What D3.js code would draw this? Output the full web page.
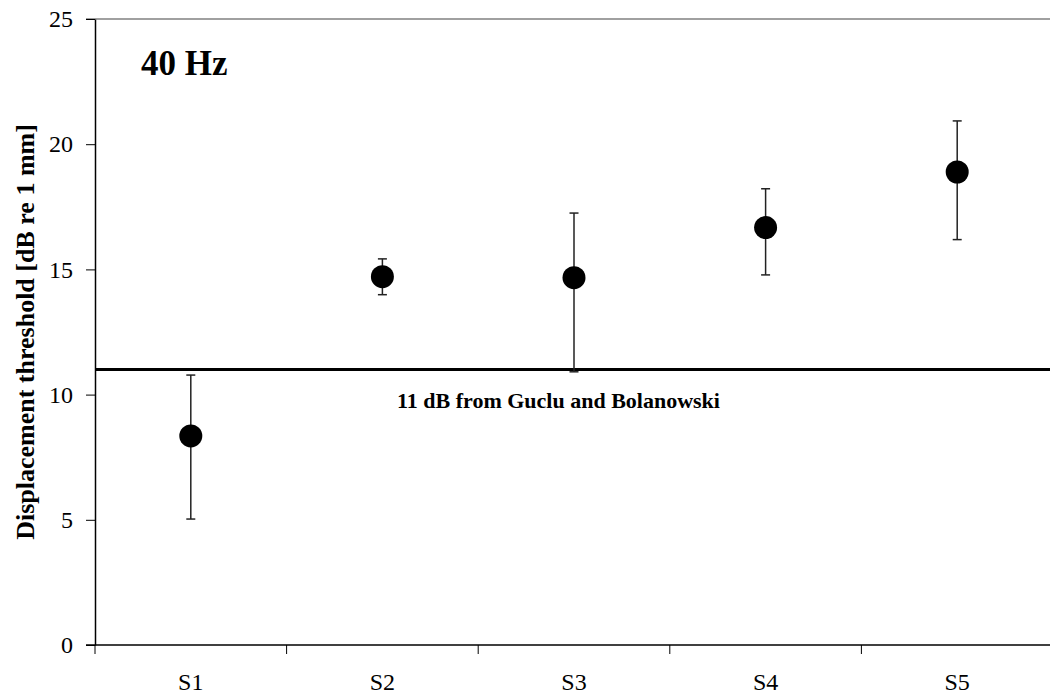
<!DOCTYPE html>
<html>
<head>
<meta charset="utf-8">
<script src="https://cdn.jsdelivr.net/npm/d3@7"></script>
<style>
  body { margin: 0; background: #fff; }
  svg { display: block; }
  text { font-family: "Liberation Serif", "DejaVu Serif", serif; }
</style>
</head>
<body>
<div id="vis"></div>
<script>
var subjects = ['S1', 'S2', 'S3', 'S4', 'S5'];
var means = [8.35, 14.71, 14.67, 16.67, 18.89];
var upper = [10.78, 15.42, 17.25, 18.22, 20.93];
var lower = [5.03, 13.99, 10.91, 14.78, 16.19];
var yTicks = [0, 5, 10, 15, 20, 25];
var refLevel = 11;
var refLabel = '11 dB from Guclu and Bolanowski';

var width = 1050;
var height = 698;
var margin = {left: 95, top: 19, right: -3, bottom: 53};

var svg = d3.select('#vis')
    .append('svg')
        .attr('width', width)
        .attr('height', height);

var innerW = width - margin.left - margin.right;
var innerH = height - margin.top - margin.bottom;

var g = svg.append('g')
    .attr('transform', 'translate(' + margin.left + ',' + margin.top + ')');

var x_scale = d3.scaleBand()
    .domain(subjects)
    .range([0, innerW]);

var y_scale = d3.scaleLinear()
    .domain([0, 25])
    .range([innerH, 0]);

// top frame line
g.append('line')
    .attr('x1', -9).attr('x2', innerW)
    .attr('y1', 0).attr('y2', 0)
    .attr('stroke', '#808080')
    .attr('stroke-width', 1.5);

// y axis
var yAxis = g.append('g')
    .call(d3.axisLeft(y_scale).tickValues(yTicks).tickSize(9).tickSizeOuter(0).tickPadding(13));
yAxis.select('.domain').attr('stroke', '#000').attr('stroke-width', 1.5);
yAxis.selectAll('.tick line').attr('stroke', '#000');
yAxis.selectAll('text')
    .attr('font-family', '"Liberation Serif", serif')
    .attr('font-size', 24)
    .attr('fill', '#000');

// x axis, ticks between categories
var xAxisG = g.append('g')
    .attr('transform', 'translate(0,' + innerH + ')');
xAxisG.append('line')
    .attr('x1', -9).attr('x2', innerW)
    .attr('y1', 0).attr('y2', 0)
    .attr('stroke', '#000')
    .attr('stroke-width', 1.5);
var bounds = subjects.map(function(d){ return x_scale(d); });
xAxisG.selectAll('.xtick')
    .data(bounds)
    .enter().append('line')
    .attr('x1', function(d){ return d; })
    .attr('x2', function(d){ return d; })
    .attr('y1', 0).attr('y2', 9)
    .attr('stroke', '#000');
xAxisG.selectAll('.xlabel')
    .data(subjects)
    .enter().append('text')
    .attr('x', function(d){ return x_scale(d) + x_scale.bandwidth() / 2; })
    .attr('y', 45)
    .attr('text-anchor', 'middle')
    .attr('font-size', 24)
    .text(function(d){ return d; });

// reference line
g.append('line')
    .attr('x1', 0).attr('x2', innerW)
    .attr('y1', y_scale(refLevel)).attr('y2', y_scale(refLevel))
    .attr('stroke', '#000')
    .attr('stroke-width', 3);
g.append('text')
    .attr('x', 302)
    .attr('y', y_scale(refLevel) + 38)
    .attr('font-size', 22)
    .attr('font-weight', 'bold')
    .text(refLabel);

// error bars and points
var data = subjects.map(function(s, i){
    return {s: s, m: means[i], hi: upper[i], lo: lower[i]};
});
var cx = function(d){ return x_scale(d.s) + x_scale.bandwidth() / 2; };
var pts = g.selectAll('.pt').data(data).enter().append('g').attr('class', 'pt');
pts.append('line')
    .attr('x1', cx).attr('x2', cx)
    .attr('y1', function(d){ return y_scale(d.hi); })
    .attr('y2', function(d){ return y_scale(d.lo); })
    .attr('stroke', '#222').attr('stroke-width', 1.5);
pts.append('line')
    .attr('x1', function(d){ return cx(d) - 4.5; })
    .attr('x2', function(d){ return cx(d) + 4.5; })
    .attr('y1', function(d){ return y_scale(d.hi); })
    .attr('y2', function(d){ return y_scale(d.hi); })
    .attr('stroke', '#222').attr('stroke-width', 1.5);
pts.append('line')
    .attr('x1', function(d){ return cx(d) - 4.5; })
    .attr('x2', function(d){ return cx(d) + 4.5; })
    .attr('y1', function(d){ return y_scale(d.lo); })
    .attr('y2', function(d){ return y_scale(d.lo); })
    .attr('stroke', '#222').attr('stroke-width', 1.5);
pts.append('circle')
    .attr('cx', cx)
    .attr('cy', function(d){ return y_scale(d.m); })
    .attr('r', 11.5)
    .attr('fill', '#000');

// panel label
g.append('text')
    .attr('x', 46)
    .attr('y', 56)
    .attr('font-size', 35)
    .attr('font-weight', 'bold')
    .text('40 Hz');

// y axis title
svg.append('text')
    .attr('transform', 'translate(34,332) rotate(-90)')
    .attr('text-anchor', 'middle')
    .attr('font-size', 26)
    .attr('font-weight', 'bold')
    .text('Displacement threshold [dB re 1 mm]');
</script>
</body>
</html>
